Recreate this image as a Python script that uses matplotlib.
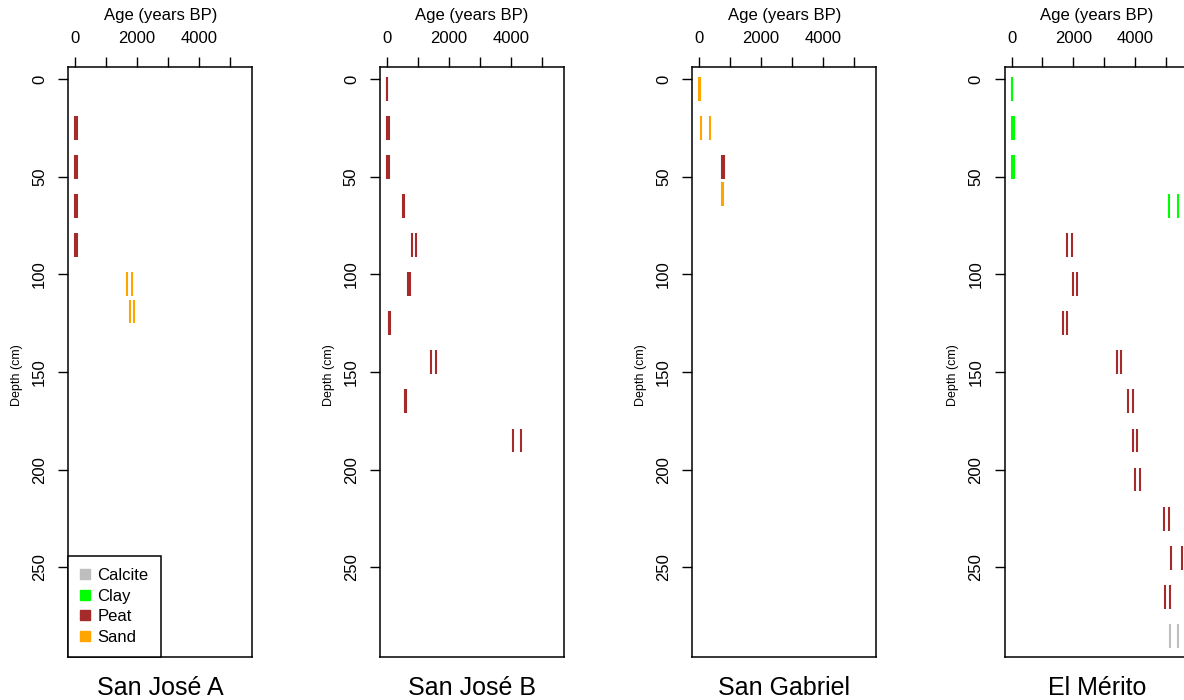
import matplotlib
matplotlib.use("Agg")
import matplotlib.pyplot as plt
from matplotlib.lines import Line2D

plt.rcParams['font.family'] = ['Liberation Sans', 'DejaVu Sans']

# ---- data ----
site_names = ["San José A", "San José B", "San Gabriel", "El Mérito"]

sja_depth = [25, 45, 65, 85, 105, 119]
sja_age_lo = [0, 0, 0, 0, 1670, 1765]
sja_age_hi = [45, 45, 45, 45, 1850, 1895]
sja_mat = ["Peat", "Peat", "Peat", "Peat", "Sand", "Sand"]

sjb_depth = [5, 25, 45, 65, 85, 105, 125, 145, 165, 185]
sjb_age_lo = [0, 10, 10, 520, 810, 700, 80, 1415, 580, 4060]
sjb_age_hi = [15, 60, 55, 570, 950, 760, 95, 1585, 620, 4320]
sjb_mat = ["Peat"] * 10

sg_depth = [5, 25, 45, 59]
sg_age_lo = [0, 50, 740, 730]
sg_age_hi = [20, 365, 790, 775]
sg_mat = ["Sand", "Sand", "Peat", "Sand"]

em_depth = [5, 25, 45, 65, 85, 105, 125, 145, 165, 185, 205, 225, 245, 265, 285]
em_age_lo = [0, 20, 20, 5100, 1800, 1995, 1675, 3420, 3775, 3915, 3990, 4930, 5135, 4940, 5125]
em_age_hi = [15, 65, 65, 5360, 1950, 2125, 1790, 3550, 3915, 4055, 4150, 5100, 5490, 5115, 5380]
em_mat = ["Clay"] * 4 + ["Peat"] * 10 + ["Calcite"]

materials = ["Calcite", "Clay", "Peat", "Sand"]
mat_colors = {"Calcite": "#BEBEBE", "Clay": "#00FF00", "Peat": "#A52A2A", "Sand": "#FFA500"}

sites = [
    (sja_depth, sja_age_lo, sja_age_hi, sja_mat),
    (sjb_depth, sjb_age_lo, sjb_age_hi, sjb_mat),
    (sg_depth, sg_age_lo, sg_age_hi, sg_mat),
    (em_depth, em_age_lo, em_age_hi, em_mat),
]

half_thick = 6.1
x_ticks = [0, 1000, 2000, 3000, 4000, 5000]
x_ticklabels = ["0", "", "2000", "", "4000", ""]
y_ticks = [0, 50, 100, 150, 200, 250]

W, H = 1184, 700
fig = plt.figure(figsize=(W / 100, H / 100), dpi=100)

lefts_px = [68.3, 380.0, 692.3, 1004.7]
ax_w_px = 184.0
top_px, bot_px = 66.7, 657.3
ax_h_px = bot_px - top_px

for i, (name, (dep, lo, hi, mat)) in enumerate(zip(site_names, sites)):
    ax = fig.add_axes([lefts_px[i] / W, 1 - bot_px / H, ax_w_px / W, ax_h_px / H])
    for d, a1, a2, m in zip(dep, lo, hi, mat):
        c = mat_colors[m]
        ax.vlines([a1, a2], d - half_thick, d + half_thick, colors=c, linewidth=1.5)
    ax.set_xlim(-220, 5720)
    ax.set_ylim(296, -6.3)
    ax.xaxis.tick_top()
    ax.set_xticks(x_ticks)
    ax.set_xticklabels(x_ticklabels, fontsize=12)
    ax.set_yticks(y_ticks)
    ax.set_yticklabels([str(v) for v in y_ticks], fontsize=12, rotation=90, va="center")
    ax.tick_params(axis="x", length=7.2, width=1.0, pad=7.5)
    ax.tick_params(axis="y", length=7.2, width=1.0, pad=8)
    for s in ax.spines.values():
        s.set_linewidth(1.1)
    ax.text(0.5, 1 + (top_px - 15.7) / ax_h_px, "Age (years BP)", transform=ax.transAxes,
            ha="center", va="center", fontsize=12)
    ax.text((17 - 68.3) / ax_w_px, 1 - (375 - top_px) / ax_h_px, "Depth (cm)",
            transform=ax.transAxes, rotation=90, ha="center", va="center", fontsize=9)
    ax.text(0.5, -(688 - bot_px) / ax_h_px, name, transform=ax.transAxes,
            ha="center", va="center", fontsize=18)
    if i == 0:
        handles = [Line2D([], [], linestyle="none", marker="s", markersize=7,
                          markerfacecolor=mat_colors[m], markeredgecolor=mat_colors[m])
                   for m in materials]
        leg = ax.legend(handles, materials, loc="lower left", bbox_to_anchor=(0, 0),
                        borderaxespad=0, fontsize=12, frameon=True, fancybox=False,
                        edgecolor="black", framealpha=1, handlelength=0.55,
                        handletextpad=0.45, labelspacing=0.33, borderpad=0.75)
        leg.get_frame().set_linewidth(1.1)

fig.savefig("out.png", dpi=100)
